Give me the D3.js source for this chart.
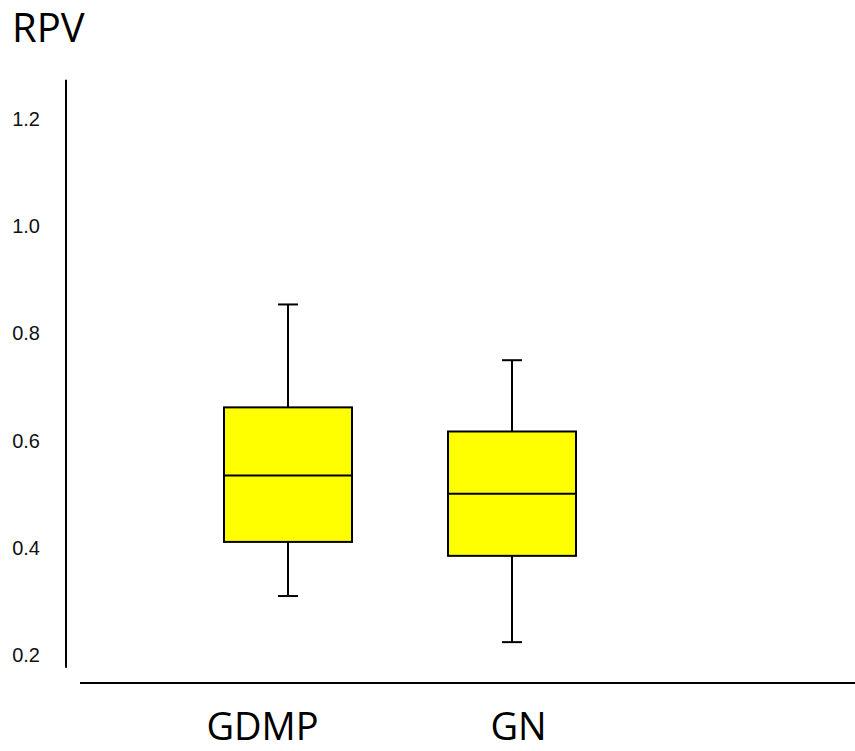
<!DOCTYPE html>
<html>
<head>
<meta charset="utf-8">
<script src="https://cdn.jsdelivr.net/npm/d3@7"></script>
<style>
  body { margin: 0; background: #fff; }
  svg { display: block; }
</style>
</head>
<body>
<svg id="chart" width="855" height="751"></svg>
<script>
// data
var categories = ['GDMP', 'GN'];
var whiskerLow = [0.31, 0.224];
var q1 = [0.411, 0.385];
var median = [0.535, 0.501];
var q3 = [0.662, 0.617];
var whiskerHigh = [0.854, 0.75];
var yTicks = [0.2, 0.4, 0.6, 0.8, 1.0, 1.2];

var svg = d3.select('#chart');

var y = d3.scaleLinear().domain([0.2, 1.2]).range([655, 119]);
var x = d3.scaleBand().domain(categories).range([176, 624]);
// category labels sit a bit off the box centres in the original
var xLabel = d3.scalePoint().domain(categories).range([262, 518]);
var boxW = 128, capW = 20;

// title
svg.append('text')
    .attr('x', 12).attr('y', 42)
    .style('font-family', '"Open Sans", sans-serif')
    .style('font-size', '40px')
    .text('RPV');

// y axis: line + labels only, no tick marks
var yAxis = svg.append('g')
    .attr('transform', 'translate(66,0)')
    .call(d3.axisLeft(y).tickValues(yTicks).tickSize(0).tickPadding(26)
        .tickFormat(d3.format('.1f')));
yAxis.select('.domain').remove();
yAxis.selectAll('text')
    .style('font-family', '"Liberation Sans", Arial, sans-serif')
    .style('font-size', '20px')
    .attr('fill', '#111');
svg.append('line')
    .attr('x1', 66).attr('x2', 66)
    .attr('y1', y(1.273)).attr('y2', y(0.176))
    .attr('stroke', '#000').attr('stroke-width', 2);

// x axis line
svg.append('line')
    .attr('x1', 80).attr('x2', 855)
    .attr('y1', 683).attr('y2', 683)
    .attr('stroke', '#000').attr('stroke-width', 2);

var xAxis = svg.append('g')
    .attr('transform', 'translate(0,683)')
    .call(d3.axisBottom(xLabel).tickSize(0).tickPadding(30));
xAxis.select('.domain').remove();
xAxis.selectAll('text')
    .style('font-family', '"Open Sans", sans-serif')
    .style('font-size', '38px')
    .attr('fill', '#000');

// boxes
var boxes = svg.selectAll('.box')
    .data(categories)
    .enter().append('g')
    .attr('class', 'box')
    .attr('transform', function (d) { return 'translate(' + (x(d) + x.bandwidth() / 2) + ',0)'; });

boxes.append('line') // upper whisker
    .attr('x1', 0).attr('x2', 0)
    .attr('y1', function (d, i) { return y(whiskerHigh[i]); })
    .attr('y2', function (d, i) { return y(q3[i]); })
    .attr('stroke', '#000').attr('stroke-width', 2);
boxes.append('line') // lower whisker
    .attr('x1', 0).attr('x2', 0)
    .attr('y1', function (d, i) { return y(q1[i]); })
    .attr('y2', function (d, i) { return y(whiskerLow[i]); })
    .attr('stroke', '#000').attr('stroke-width', 2);
boxes.append('line')
    .attr('x1', -capW / 2).attr('x2', capW / 2)
    .attr('y1', function (d, i) { return y(whiskerHigh[i]); })
    .attr('y2', function (d, i) { return y(whiskerHigh[i]); })
    .attr('stroke', '#000').attr('stroke-width', 2);
boxes.append('line')
    .attr('x1', -capW / 2).attr('x2', capW / 2)
    .attr('y1', function (d, i) { return y(whiskerLow[i]); })
    .attr('y2', function (d, i) { return y(whiskerLow[i]); })
    .attr('stroke', '#000').attr('stroke-width', 2);

boxes.append('rect')
    .attr('x', -boxW / 2)
    .attr('width', boxW)
    .attr('y', function (d, i) { return y(q3[i]); })
    .attr('height', function (d, i) { return y(q1[i]) - y(q3[i]); })
    .attr('fill', '#ffff00')
    .attr('stroke', '#000').attr('stroke-width', 2);

boxes.append('line') // median
    .attr('x1', -boxW / 2).attr('x2', boxW / 2)
    .attr('y1', function (d, i) { return y(median[i]); })
    .attr('y2', function (d, i) { return y(median[i]); })
    .attr('stroke', '#000').attr('stroke-width', 2);
</script>
</body>
</html>
